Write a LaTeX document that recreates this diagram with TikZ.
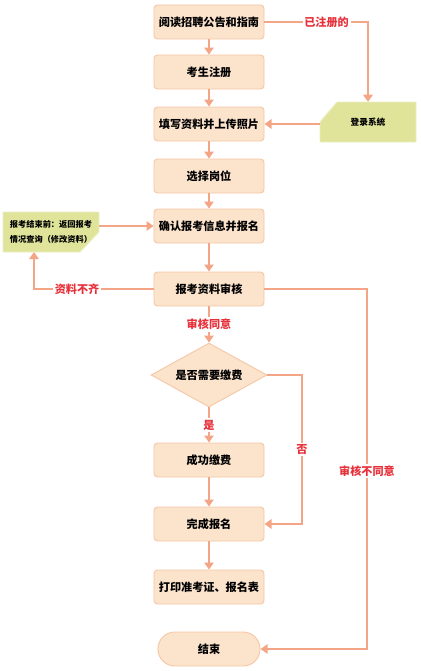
\documentclass[tikz,border=0pt]{standalone}
\usepackage{fontspec}
\setmainfont{Noto Sans CJK SC}
\usepackage{xcolor}
\usetikzlibrary{arrows.meta, shapes.geometric, shapes.misc}

\definecolor{boxfill}{HTML}{FBE3CC}
\definecolor{boxline}{HTML}{F6C8A6}
\definecolor{flow}{HTML}{F3A585}
\definecolor{notefill}{HTML}{DFE49A}
\definecolor{noteline}{HTML}{ECEFC0}
\definecolor{labred}{HTML}{E8303A}

\tikzset{
	stepbox/.style={draw=boxline, fill=boxfill, line width=0.8pt, rounded corners=3pt,
		minimum width=3.3cm, minimum height=1.02cm, font=\fontsize{9.5}{11}\selectfont\bfseries},
	notebox/.style={inner sep=0pt, minimum width=2.88cm, minimum height=1.2cm},
	noteshape/.style={draw=noteline, fill=notefill, line width=0.8pt},
	flowline/.style={draw=flow, line width=2.5pt, -{Triangle[length=6pt, width=8pt]}},
	flowlab/.style={fill=white, text=labred, inner sep=1.5pt, font=\fontsize{9.5}{11}\selectfont\bfseries}
}

\begin{document}
\begin{tikzpicture}[x=0.03cm, y=-0.03cm]
	%page frame
	\useasboundingbox (0,0) rectangle (421,671);

	%note outlines (cut corners)
	\draw[noteshape] (337,102) -- (416,102) -- (416,142) -- (320,142) -- (320,122) -- cycle;
	\draw[noteshape] (3,212) -- (99,212) -- (99,232) -- (80,252) -- (3,252) -- cycle;

	%main column
	\node[stepbox] (read) at (209,22) {阅读招聘公告和指南};
	\node[stepbox] (reg) at (209,72) {考生注册};
	\node[stepbox] (fill) at (209,124) {填写资料并上传照片};
	\node[stepbox] (post) at (209,176) {选择岗位};
	\node[stepbox] (confirm) at (209,226) {确认报考信息并报名};
	\node[stepbox] (check) at (209,289) {报考资料审核};
	\node[stepbox, diamond, rounded corners=0pt, aspect=1.81, inner sep=0pt,
		minimum width=3.48cm, minimum height=1.92cm] (fee) at (209,375) {是否需要缴费};
	\node[stepbox] (pay) at (209,460) {成功缴费};
	\node[stepbox] (done) at (209,524) {完成报名};
	\node[stepbox] (print) at (209,587) {打印准考证、报名表};
	\node[stepbox, rounded rectangle, rounded corners=0pt] (end) at (209,649) {结束};

	%side notes
	\node[notebox, font=\fontsize{7.4}{9}\selectfont\bfseries] (login) at (368,122) {登录系统};
	\node[notebox, align=center, font=\fontsize{7}{13}\selectfont\bfseries] (back) at (51,232)
		{报考结束前：返回报考\\情况查询（修改资料）};

	\coordinate (backIn) at (34,252);
	\coordinate (noTurn) at (302,375);
	\coordinate (rejTurn) at (367,289);

	%straight flow
	\draw[flowline] (read) -- (reg);
	\draw[flowline] (reg) -- (fill);
	\draw[flowline] (fill) -- (post);
	\draw[flowline] (post) -- (confirm);
	\draw[flowline] (confirm) -- (check);
	\draw[flowline] (check) -- node[flowlab] {审核同意} (fee);
	\draw[flowline] (fee) -- node[flowlab] {是} (pay);
	\draw[flowline] (pay) -- (done);
	\draw[flowline] (done) -- (print);

	%branches
	\draw[flowline] (read.east) -| node[flowlab, pos=0.3] {已注册的} (login.north);
	\draw[flowline] (login.west |- fill.east) -- (fill.east);
	\draw[flowline] (back.east |- confirm.west) -- (confirm.west);
	\draw[flowline] (check.west) -| node[flowlab, pos=0.32] {资料不齐} (backIn);
	\draw[flowline] (fee.east) -- (noTurn) |- node[flowlab, pos=0.25] {否} (done.east);
	\draw[flowline] (check.east) -- (rejTurn) |- node[flowlab, pos=0.253] {审核不同意} (end.east);
\end{tikzpicture}
\end{document}
